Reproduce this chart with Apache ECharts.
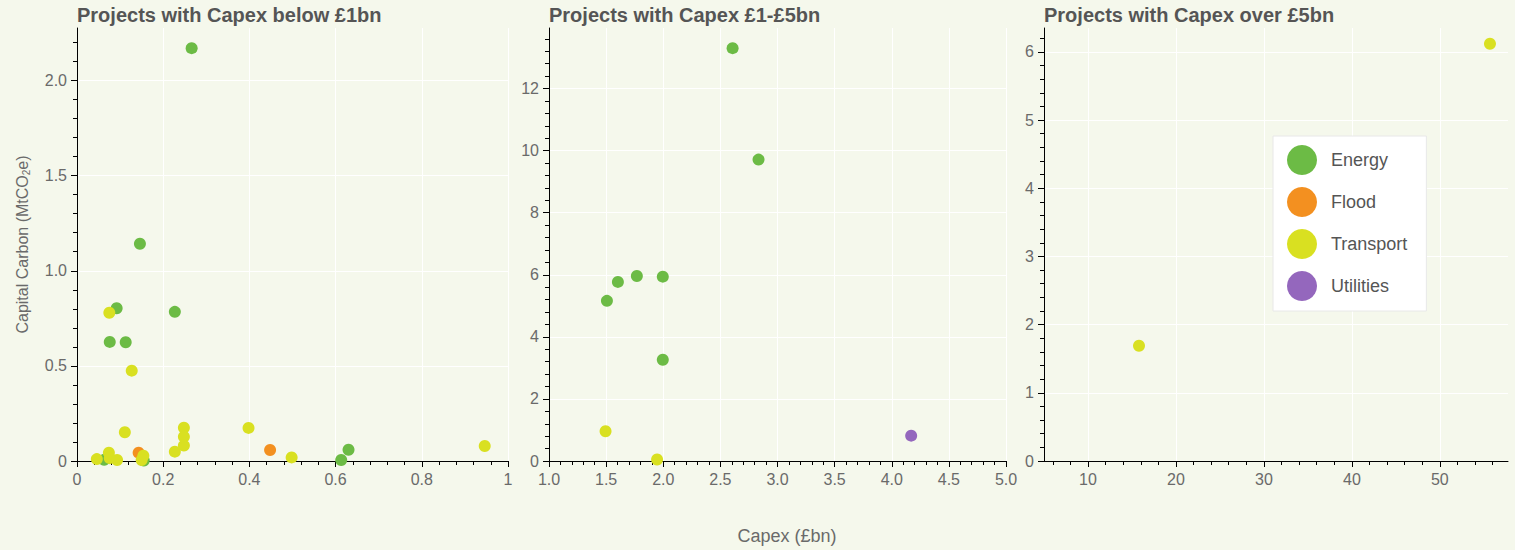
<!DOCTYPE html>
<html><head><meta charset="utf-8">
<script src="https://cdn.jsdelivr.net/npm/echarts@6/dist/echarts.min.js"></script>
<style>html,body{margin:0;padding:0;background:#f5f8ec}#c{width:1515px;height:550px}</style>
</head><body><div id="c"></div>
<script>
// ---- data ----
const categories = ['Energy', 'Flood', 'Transport', 'Utilities'];
const panelTitles = ['Projects with Capex below £1bn', 'Projects with Capex £1-£5bn', 'Projects with Capex over £5bn'];
const xAxisTitle = 'Capex (£bn)';
const yAxisTitle = 'Capital Carbon (MtCO{sub|2}e)';

// [capex £bn, capital carbon MtCO2e]
const below1Energy = [[0.266, 2.17], [0.146, 1.142], [0.092, 0.803], [0.227, 0.784], [0.076, 0.626], [0.113, 0.624],
  [0.063, 0.006], [0.155, 0.003], [0.613, 0.005], [0.630, 0.059]];
const below1Flood = [[0.143, 0.044], [0.448, 0.058]];
const below1Transport = [[0.046, 0.01], [0.074, 0.044], [0.076, 0.015], [0.093, 0.005], [0.154, 0.028], [0.150, 0.005],
  [0.111, 0.151], [0.127, 0.475], [0.075, 0.779], [0.227, 0.049], [0.248, 0.175], [0.248, 0.128], [0.248, 0.081],
  [0.398, 0.174], [0.498, 0.019], [0.946, 0.079]];

const mid1to5Energy = [[2.607, 13.3], [2.834, 9.71], [1.507, 5.16], [1.603, 5.77], [1.769, 5.96], [1.996, 5.94], [1.996, 3.26]];
const mid1to5Transport = [[1.495, 0.957], [1.946, 0.05]];
const mid1to5Utilities = [[4.170, 0.816]];

const over5Transport = [[15.8, 1.69], [55.7, 6.12]];

// tick values
const xTicks1 = [0, 0.2, 0.4, 0.6, 0.8, 1];
const yTicks1 = [0, 0.5, 1.0, 1.5, 2.0];
const xTicks2 = [1.0, 1.5, 2.0, 2.5, 3.0, 3.5, 4.0, 4.5, 5.0];
const yTicks2 = [0, 2, 4, 6, 8, 10, 12];
const xTicks3 = [10, 20, 30, 40, 50];
const yTicks3 = [0, 1, 2, 3, 4, 5, 6];

// ---- styles ----
const colors = { Energy: '#6cbb45', Flood: '#f39020', Transport: '#d9e021', Utilities: '#9467bd' };
const FONT = '"Liberation Sans", Arial, Helvetica, sans-serif';
const labelColor = '#6a6a6a';

function axisCommon(ticks, fmt) {
  return {
    axisLine: { show: true, lineStyle: { color: '#000', width: 1 } },
    axisTick: { show: true, length: 6, lineStyle: { color: '#000' }, customValues: ticks },
    minorTick: { show: true, splitNumber: 5, length: 4, lineStyle: { color: '#000' } },
    splitLine: { show: true, lineStyle: { color: '#ffffff', width: 1 } },
    axisLabel: { color: labelColor, fontSize: 16, fontFamily: FONT, margin: 10, formatter: fmt, customValues: ticks }
  };
}
function xAxisCfg(grid, min, max, ticks, fmt, interval) {
  return Object.assign({ type: 'value', gridIndex: grid, min: min, max: max, interval: interval }, axisCommon(ticks, fmt));
}
function yAxisCfg(grid, max, ticks, fmt, extra) {
  return Object.assign({ type: 'value', gridIndex: grid, min: 0, max: max, interval: ticks[1] - ticks[0] },
    axisCommon(ticks, fmt), extra || {});
}
const oneDec = v => v === 0 ? '0' : v.toFixed(1);
const plain = v => String(v);

function scatter(name, data, gi) {
  return {
    type: 'scatter', name: name, xAxisIndex: gi, yAxisIndex: gi, data: data,
    symbol: 'circle', symbolSize: 12, itemStyle: { color: colors[name], opacity: 1 },
    emphasis: { disabled: true }, animation: false
  };
}

const grids = [
  { left: 77, top: 28, width: 431, height: 433 },
  { left: 549, top: 28, width: 457, height: 433 },
  { left: 1044, top: 28, width: 464, height: 433 }
];

const option = {
  backgroundColor: '#f5f8ec',
  animation: false,
  textStyle: { fontFamily: FONT },
  title: panelTitles.map((t, i) => ({
    text: t, left: grids[i].left, top: 5, padding: 0,
    textStyle: { fontSize: 20, fontWeight: 'bold', color: '#555', fontFamily: FONT }
  })),
  grid: grids,
  xAxis: [
    xAxisCfg(0, 0, 1, xTicks1, plain, 0.2),
    xAxisCfg(1, 1, 5, xTicks2, v => v.toFixed(1), 0.5),
    Object.assign(xAxisCfg(2, 5, 57.75, xTicks3, plain, undefined), { splitNumber: 5 })
  ],
  yAxis: [
    yAxisCfg(0, 2.276, yTicks1, oneDec, {
      name: yAxisTitle, nameLocation: 'middle', nameGap: 46, nameRotate: 90,
      nameTextStyle: { fontSize: 16, color: labelColor, fontFamily: FONT,
        rich: { sub: { fontSize: 10, color: labelColor, fontFamily: FONT, padding: [8, 0, 0, 0] } } }
    }),
    yAxisCfg(1, 13.95, yTicks2, plain),
    yAxisCfg(2, 6.35, yTicks3, plain)
  ],
  legend: {
    orient: 'vertical', left: 1273, top: 136,
    itemWidth: 30, itemHeight: 30, itemGap: 12, icon: 'circle',
    backgroundColor: '#ffffff', borderColor: '#e8e8e8', borderWidth: 1,
    padding: [9, 19, 10, 14],
    textStyle: { fontSize: 18, color: '#555', fontFamily: FONT, padding: [0, 0, 0, 9] },
    data: categories, selectedMode: false
  },
  graphic: [{
    type: 'text', x: 787, y: 536,
    style: { text: xAxisTitle, fill: labelColor, fontSize: 18, fontFamily: FONT, textAlign: 'center', textVerticalAlign: 'middle' }
  }],
  series: [
    scatter('Energy', below1Energy, 0),
    scatter('Flood', below1Flood, 0),
    scatter('Transport', below1Transport, 0),
    scatter('Energy', mid1to5Energy, 1),
    scatter('Transport', mid1to5Transport, 1),
    scatter('Utilities', mid1to5Utilities, 1),
    scatter('Transport', over5Transport, 2),
    // empty series keep every category in the legend
    scatter('Flood', [], 2),
    scatter('Utilities', [], 2)
  ]
};

const chart = echarts.init(document.getElementById('c'), null, { renderer: 'svg' });
chart.setOption(option);
</script>
</body></html>
